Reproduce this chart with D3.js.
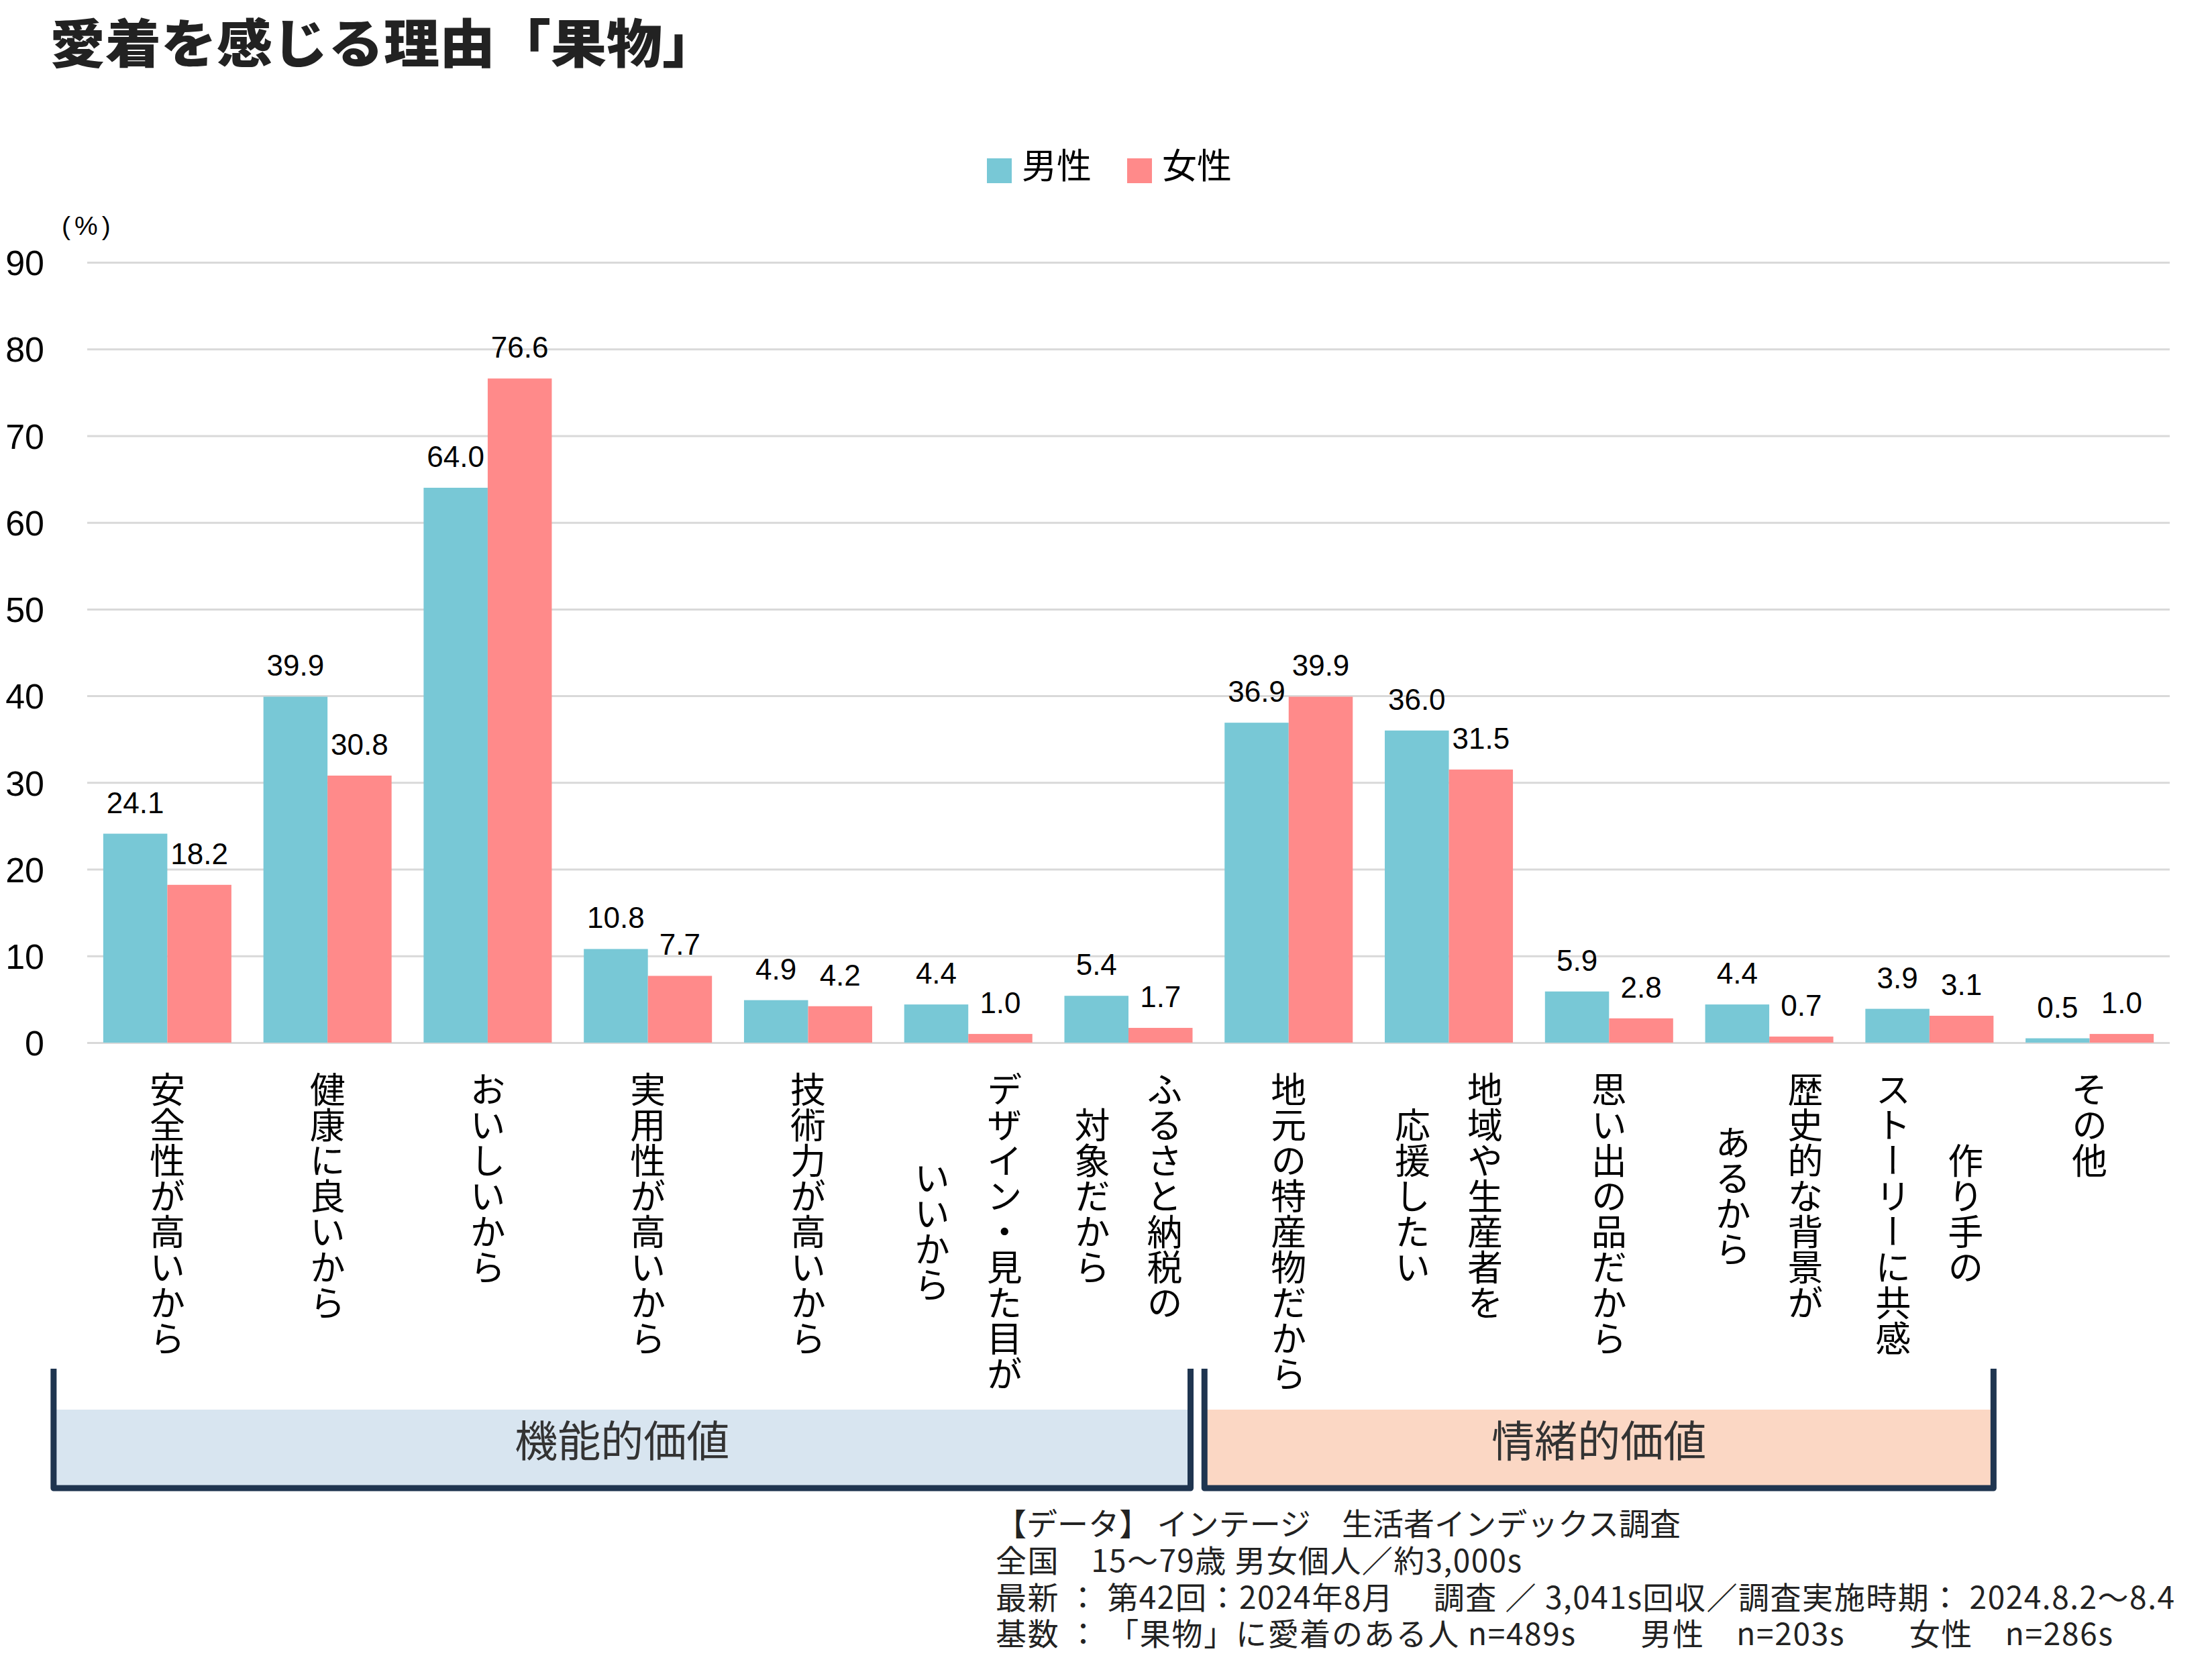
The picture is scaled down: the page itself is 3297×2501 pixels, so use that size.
<!DOCTYPE html>
<html><head><meta charset="utf-8">
<script src="https://cdn.jsdelivr.net/npm/d3@7"></script>
<style>
body{margin:0;background:#fff}
svg{display:block}
.ws{white-space:pre}
</style>
</head><body>
<script>
// ---- data ----
const title = "愛着を感じる理由「果物」";
const unitLabel = "(%)";
const seriesNames = ["男性", "女性"];
const categories = [
  "安全性が高いから",
  "健康に良いから",
  "おいしいから",
  "実用性が高いから",
  "技術力が高いから",
  "デザイン・見た目が|いいから",
  "ふるさと納税の|対象だから",
  "地元の特産物だから",
  "地域や生産者を|応援したい",
  "思い出の品だから",
  "歴史的な背景が|あるから",
  "作り手の|ストーリーに共感",
  "その他"
];
const maleValues   = [24.1, 39.9, 64.0, 10.8, 4.9, 4.4, 5.4, 36.9, 36.0, 5.9, 4.4, 3.9, 0.5];
const femaleValues = [18.2, 30.8, 76.6, 7.7, 4.2, 1.0, 1.7, 39.9, 31.5, 2.8, 0.7, 3.1, 1.0];
const yTicks = [0, 10, 20, 30, 40, 50, 60, 70, 80, 90];
const groupLabels = ["機能的価値", "情緒的価値"];
const groupRanges = [[0, 6], [7, 11]];
const footnotes = [
  "【データ】 インテージ　生活者インデックス調査",
  "全国　15～79歳 男女個人／約3,000s",
  "最新 ： 第42回：2024年8月　 調査 ／ 3,041s回収／調査実施時期： 2024.8.2～8.4",
  "基数 ： 「果物」に愛着のある人 n=489s　　男性　n=203s　　女性　n=286s"
];

// ---- styles ----
const W = 3297, H = 2501;
const colors = ["#78C8D6", "#FF8A8A"];
const groupFills = ["#D8E5F0", "#FBD7C4"];
const jp = "'Noto Sans CJK JP','Noto Sans',sans-serif";
const latin = "'Liberation Sans',Arial,sans-serif";

const svg = d3.select("body").append("svg").attr("width", W).attr("height", H);
svg.append("rect").attr("width", W).attr("height", H).attr("fill", "#fff");

const plotL = 130, plotR = 3234, plotT = 391, plotB = 1554;
const x = d3.scaleBand().domain(d3.range(categories.length)).range([plotL, plotR])
  .paddingInner(0.2).paddingOuter(0.1);
const xs = d3.scaleBand().domain([0, 1]).range([0, x.bandwidth()]);
const y = d3.scaleLinear().domain([0, 90]).range([plotB, plotT]);

// title
svg.append("text").attr("x", 74).attr("y", 60).attr("dominant-baseline", "central")
  .attr("font-family", jp).attr("font-weight", 900).attr("font-size", 78)
  .attr("textLength", 996).attr("lengthAdjust", "spacingAndGlyphs")
  .attr("fill", "#222").text(title);

// legend
const legX = [1471, 1680];
seriesNames.forEach((n, i) => {
  svg.append("rect").attr("x", legX[i]).attr("y", 236).attr("width", 37).attr("height", 37).attr("fill", colors[i]);
  svg.append("text").attr("x", legX[i] + 52).attr("y", 243).attr("dominant-baseline", "central")
    .attr("font-family", jp).attr("font-size", 52).attr("fill", "#000").text(n);
});

// unit label
svg.append("text").attr("x", 92).attr("y", 336).attr("dominant-baseline", "central")
  .attr("font-family", latin).attr("font-size", 39).attr("letter-spacing", 6).attr("fill", "#000").text(unitLabel);

// y axis with gridlines
const yAxis = d3.axisLeft(y).tickValues(yTicks).tickSize(-(plotR - plotL)).tickPadding(64).tickFormat(d3.format("d"));
const ga = svg.append("g").attr("transform", `translate(${plotL},0)`).call(yAxis);
ga.select(".domain").remove();
ga.selectAll(".tick line").attr("stroke", "#D9D9D9").attr("stroke-width", 3);
ga.selectAll(".tick text").attr("font-family", latin).attr("font-size", 52).attr("fill", "#000").attr("dy", "0.36em");

// bars
const rows = categories.map((c, i) => ({ i, vals: [maleValues[i], femaleValues[i]] }));
const gBars = svg.append("g");
rows.forEach(r => {
  r.vals.forEach((v, s) => {
    gBars.append("rect")
      .attr("x", x(r.i) + xs(s)).attr("width", xs.bandwidth())
      .attr("y", y(v)).attr("height", y(0) - y(v)).attr("fill", colors[s]);
    gBars.append("text")
      .attr("x", x(r.i) + xs(s) + xs.bandwidth() / 2).attr("y", y(v) - 31)
      .attr("text-anchor", "middle").attr("font-family", latin).attr("font-size", 44)
      .attr("fill", "#000").text(v.toFixed(1));
  });
});

// category labels (vertical)
const fsCat = 53, lineGap = 108, catTop = 1597;
categories.forEach((c, i) => {
  const lines = c.split("|");
  const L = d3.max(lines, l => Array.from(l).length);
  const cx = x(i) + x.bandwidth() / 2;
  lines.forEach((l, k) => {
    svg.append("text")
      .attr("x", cx + ((lines.length - 1) / 2 - k) * lineGap)
      .attr("y", catTop + L * fsCat / 2)
      .attr("text-anchor", "middle")
      .style("writing-mode", "vertical-rl")
      .attr("font-family", jp).attr("font-size", fsCat).attr("fill", "#000").text(l);
  });
});

// group brackets
const brTop = 2040, fillTop = 2101, brBot = 2218;
groupRanges.forEach((gr, gi) => {
  const left = gi === 0 ? x(gr[0]) - 74 : x(gr[0]) - 30;
  const right = gi === 0 ? x(gr[1]) + x.bandwidth() - 3 : x(gr[1]) + x.bandwidth();
  svg.append("rect").attr("x", left).attr("y", fillTop).attr("width", right - left).attr("height", brBot - fillTop)
    .attr("fill", groupFills[gi]);
  svg.append("path").attr("d", `M${left},${brTop}V${brBot}H${right}V${brTop}`)
    .attr("fill", "none").attr("stroke", "#1F3550").attr("stroke-width", 9).attr("stroke-linejoin", "round");
  svg.append("text").attr("x", (left + right) / 2).attr("y", 2143).attr("text-anchor", "middle")
    .attr("dominant-baseline", "central").attr("font-family", jp).attr("font-size", 64)
    .attr("fill", "#333").text(groupLabels[gi]);
});

// footnotes
const fnY = [2268, 2323, 2378, 2432];
const fnW = [1021, 784, 1757, 1665];
footnotes.forEach((t, i) => {
  svg.append("text").attr("class", "ws").attr("x", 1484).attr("y", fnY[i]).attr("dominant-baseline", "central")
    .attr("font-family", jp).attr("font-size", 46).attr("fill", "#222")
    .attr("textLength", fnW[i]).attr("lengthAdjust", "spacing").text(t);
});
</script>
</body></html>
